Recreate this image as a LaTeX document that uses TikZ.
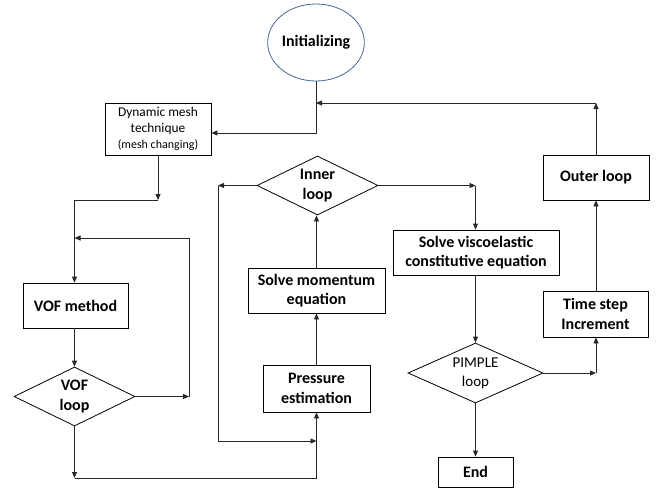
\documentclass[tikz,border=0pt]{standalone}
\usepackage{fontspec}
\setmainfont{Carlito}
\usetikzlibrary{arrows.meta,shapes.geometric,calc}
\definecolor{ellblue}{RGB}{72,104,150}
\definecolor{linegray}{RGB}{40,40,40}
\tikzset{
  box/.style={draw=black,line width=0.8pt,rectangle,inner sep=0pt,align=center,
    font=\fontsize{16}{19.5}\selectfont\bfseries},
  dia/.style={draw=black,line width=0.8pt,diamond,inner sep=0pt},
  dtext/.style={align=center,font=\fontsize{16}{19.5}\selectfont\bfseries},
  arr/.style={draw=linegray,line width=0.8pt,-{Triangle[length=6pt,width=5pt]}},
  ln/.style={draw=linegray,line width=0.8pt}
}
\begin{document}
\begin{tikzpicture}[x=1pt,y=-1pt]
\useasboundingbox (0,0) rectangle (659,488);
% nodes
\node[ellipse,draw=ellblue,line width=0.8pt,minimum width=94pt,minimum height=77pt,inner sep=0pt,
  font=\fontsize{16}{19.5}\selectfont\bfseries] (init) at (316,42.5) {Initializing};
\node[box,minimum width=106pt,minimum height=52pt,font=\fontsize{13.4}{16}\selectfont] (dyn) at (158,129)
  {Dynamic mesh\\technique\\{\fontsize{12}{14}\selectfont (mesh changing)}};
\node[box,minimum width=105pt,minimum height=45pt] (vof) at (75.5,305.5) {VOF method};
\node[dia,minimum width=121pt,minimum height=59pt] (vofloop) at (74.5,396.5) {};
\node[dtext] at (vofloop.center) {VOF\\loop};
\node[box,minimum width=107pt,minimum height=47pt] (press) at (316.5,388.5) {Pressure\\estimation};
\node[box,minimum width=137pt,minimum height=45pt] (mom) at (316.5,290.5) {Solve momentum\\equation};
\node[dia,minimum width=121pt,minimum height=59pt] (inner) at (317.5,185.5) {};
\node[dtext] at (inner.center) {Inner\\loop};
\node[box,minimum width=166pt,minimum height=45pt] (visco) at (476,252.5) {Solve viscoelastic\\constitutive equation};
\node[dia,minimum width=135pt,minimum height=60pt] (pimple) at (475.5,373) {};
\node[dtext,font=\fontsize{15}{19}\selectfont] at (pimple.center) {PIMPLE\\loop};
\node[box,minimum width=75pt,minimum height=30pt] (end) at (475.5,472) {End};
\node[box,minimum width=105pt,minimum height=46pt] (time) at (595.5,314) {Time step\\Increment};
\node[box,minimum width=106pt,minimum height=45pt] (outer) at (596,177.5) {Outer loop};
% bend coordinates
\coordinate (c1) at (596,103);
\coordinate (c2) at (158,200);
\coordinate (c3) at (189,396.5);
\coordinate (c4) at (189,238);
\coordinate (c5) at (74.5,478);
\coordinate (c6) at (218,185.5);
\coordinate (c7) at (218,441);
\coordinate (c8) at (475.5,185.5);
\coordinate (c9) at (596,373);
% connectors
\draw[arr] (init.south) |- ([yshift=-4pt]dyn.east);
\draw[arr] (outer.north) -- (c1);
\draw[arr] (c1) -- (init.south |- c1);
\draw[arr] (dyn.south) -- (c2);
\draw[arr] (c2) -| (vofloop.north |- vof.north);
\draw[arr] (vof.south -| vofloop.north) -- (vofloop.north);
\draw[arr] (vofloop.east) -- (c3);
\draw[arr] (c3) -- (c4) -- (vofloop.north |- c4);
\draw[arr] (vofloop.south) -- (c5);
\draw[arr] (c5) -| (press.south);
\draw[arr] (inner.west) -- (c6);
\draw[arr] (c6) -- (c7) -- (press.south |- c7);
\draw[arr] (press.north) -- (mom.south);
\draw[arr] (mom.north) -- (inner.south -| mom.north);
\draw[arr] (inner.east) -- (c8);
\draw[arr] (c8) -- (c8 |- visco.north);
\draw[arr] (visco.south -| pimple.north) -- (pimple.north);
\draw[arr] (pimple.south) -- (end.north);
\draw[arr] (pimple.east) -- (c9);
\draw[arr] (c9) -- (time.south -| c9);
\draw[arr] (time.north -| c9) -- (outer.south -| c9);
\end{tikzpicture}
\end{document}
